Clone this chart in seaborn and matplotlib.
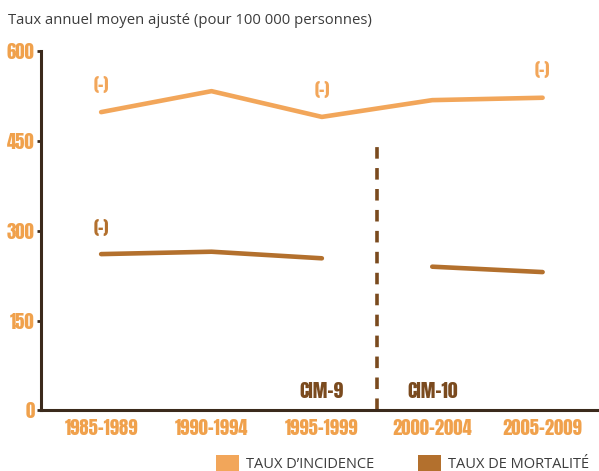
import matplotlib
matplotlib.use("Agg")
import matplotlib.pyplot as plt
from matplotlib.patches import Patch
import seaborn as sns
import pandas as pd
import numpy as np

# ---- data ----
periods = ["1985-1989", "1990-1994", "1995-1999", "2000-2004", "2005-2009"]
incidence = [498, 533, 490, 518, 522]
mortality = [261, 265, 254, 240, 231]
coding = ["CIM-9", "CIM-9", "CIM-9", "CIM-10", "CIM-10"]
incidence_flags = ["(-)", None, "(-)", None, "(-)"]
mortality_flags = ["(-)", None, None, None, None]
yticks = [0, 150, 300, 450, 600]
title = "Taux annuel moyen ajusté (pour 100 000 personnes)"
legend_labels = ["TAUX D\u2019INCIDENCE", "TAUX DE MORTALITÉ"]

C_INC = "#F2A65A"
C_MORT = "#B3702D"
C_TICK = "#F0A14C"
C_AXIS = "#3B2A1C"
C_CIM = "#7A4A1E"
C_TEXT = "#3C3C3C"

COND = ["Anton", "Bebas Neue", "Saira ExtraCondensed", "DejaVu Sans"]
BODY = ["Open Sans", "DejaVu Sans"]

sns.set_theme(style="white")
plt.rcParams["font.family"] = BODY

df = pd.DataFrame({
    "pos": np.arange(len(periods)),
    "period": periods,
    "incidence": incidence,
    "mortality": mortality,
    "coding": coding,
})

fig = plt.figure(figsize=(5.99, 4.71), dpi=100)
ax = fig.add_axes([0.0684, 0.1285, 0.9296, 0.7632])

sns.lineplot(data=df, x="pos", y="incidence", ax=ax, color=C_INC, lw=3.3,
             estimator=None, solid_capstyle="round")
sns.lineplot(data=df, x="pos", y="mortality", units="coding", estimator=None,
             ax=ax, color=C_MORT, lw=3.3, solid_capstyle="round")

# flags
for i, f in enumerate(incidence_flags):
    if f:
        ax.annotate(f, (i, incidence[i]), xytext=(0, 20), textcoords="offset points",
                    ha="center", va="center", color=C_INC, fontsize=12.5,
                    family=COND)
for i, f in enumerate(mortality_flags):
    if f:
        ax.annotate(f, (i, mortality[i]), xytext=(0, 19), textcoords="offset points",
                    ha="center", va="center", color=C_MORT, fontsize=12.5,
                    family=COND)

# coding break
brk = coding.index("CIM-10") - 0.5
ax.plot([brk, brk], [0, 443], color=C_CIM, lw=2.6, dashes=(3.2, 2.6))
ax.text(brk - 0.5, 18, "CIM-9", ha="center", va="bottom", color=C_CIM,
        fontsize=14, family=COND)
ax.text(brk + 0.5, 18, "CIM-10", ha="center", va="bottom", color=C_CIM,
        fontsize=14, family=COND)

ax.set_xlim(-0.545, len(periods) - 0.5)
ax.set_ylim(0, 600)
ax.set_xticks(df["pos"])
ax.set_xticklabels(periods)
ax.set_xticks(np.arange(len(periods) + 1) - 0.5, minor=True)
ax.set_yticks(yticks)
ax.set_xlabel("")
ax.set_ylabel("")

for s in ["top", "right"]:
    ax.spines[s].set_visible(False)
for s in ["left", "bottom"]:
    ax.spines[s].set_color(C_AXIS)
    ax.spines[s].set_linewidth(2.2)

ax.tick_params(axis="x", which="major", length=0, pad=6, labelcolor=C_TICK)
ax.tick_params(axis="x", which="minor", length=5, width=2, color=C_AXIS, direction="out")
ax.tick_params(axis="y", length=3, width=2, color=C_AXIS, pad=1.5, labelcolor=C_TICK,
               direction="out", left=True)
for lab in ax.get_xticklabels() + ax.get_yticklabels():
    lab.set_family(COND)
    lab.set_fontsize(13.5)

fig.text(0.013, 0.957, title, ha="left", va="center", color=C_TEXT, fontsize=10.7,
         family=BODY)

handles = [Patch(facecolor=C_INC, edgecolor="none"), Patch(facecolor=C_MORT, edgecolor="none")]
fig.legend(handles, legend_labels, loc="lower right", bbox_to_anchor=(1.005, -0.03),
           ncol=2, frameon=False, fontsize=10.5, handlelength=1.6, handleheight=1.3,
           handletextpad=0.45, columnspacing=3.0, labelcolor=C_TEXT)

fig.savefig("out.png", dpi=100, facecolor="white")
